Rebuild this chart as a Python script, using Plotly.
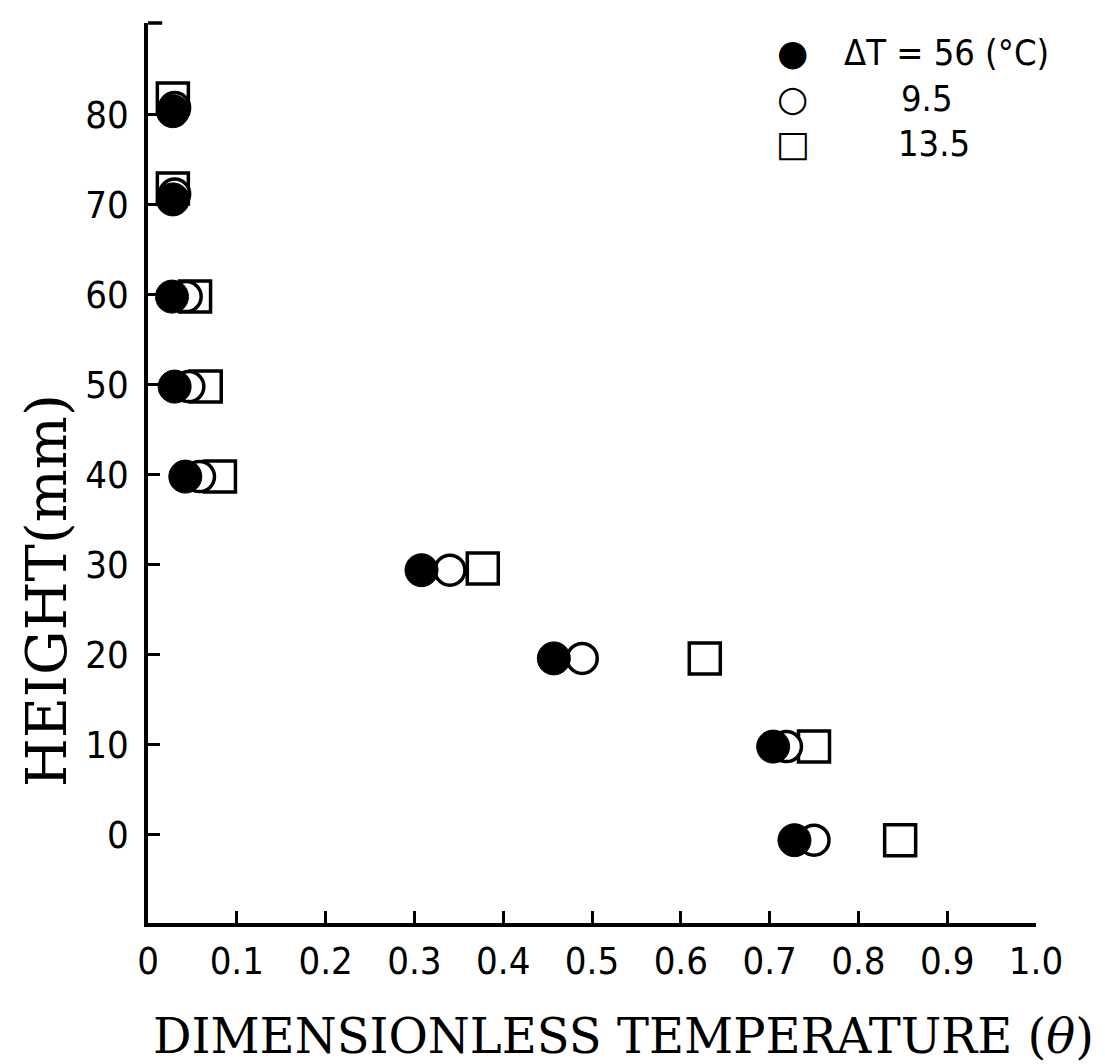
import plotly.graph_objects as go

# Data (height in mm vs dimensionless temperature)
x_dt56 = [0.028, 0.028, 0.027, 0.030, 0.042, 0.308, 0.457, 0.704, 0.728]
y_dt56 = [80.4, 70.6, 59.8, 49.8, 39.8, 29.4, 19.6, 9.8, -0.6]

x_dt95 = [0.030, 0.030, 0.043, 0.046, 0.058, 0.340, 0.489, 0.719, 0.750]
y_dt95 = [80.8, 71.2, 59.8, 49.8, 39.8, 29.4, 19.6, 9.8, -0.6]

x_dt135 = [0.028, 0.028, 0.053, 0.065, 0.081, 0.377, 0.627, 0.750, 0.847]
y_dt135 = [81.8, 71.8, 59.8, 49.8, 39.8, 29.6, 19.6, 9.8, -0.6]

x_tickvals = [0, 0.1, 0.2, 0.3, 0.4, 0.5, 0.6, 0.7, 0.8, 0.9, 1.0]
x_ticktext = ["0", "0.1", "0.2", "0.3", "0.4", "0.5", "0.6", "0.7", "0.8", "0.9", "1.0"]
y_tickvals = [0, 10, 20, 30, 40, 50, 60, 70, 80]

legend_labels = ["ΔT = 56 (°C)", "9.5", "13.5"]

narrow = "Liberation Sans Narrow, DejaVu Sans Condensed, Arial Narrow, sans-serif"
tick_font = dict(family=narrow, size=38, color="black")
serif = "DejaVu Serif, Liberation Serif, serif"

fig = go.Figure()
fig.add_trace(go.Scatter(x=x_dt135, y=y_dt135, mode="markers", name=legend_labels[2],
                         marker=dict(symbol="square", size=31, color="white",
                                     line=dict(color="black", width=3.5))))
fig.add_trace(go.Scatter(x=x_dt95, y=y_dt95, mode="markers", name=legend_labels[1],
                         marker=dict(symbol="circle", size=30, color="white",
                                     line=dict(color="black", width=3.5))))
fig.add_trace(go.Scatter(x=x_dt56, y=y_dt56, mode="markers", name=legend_labels[0],
                         marker=dict(symbol="circle", size=33, color="black",
                                     line=dict(color="black", width=1))))

fig.update_layout(
    width=1105, height=1064,
    margin=dict(l=140, r=77, t=15, b=149),
    paper_bgcolor="white", plot_bgcolor="white",
    showlegend=False,
    xaxis=dict(range=[0, 1.0], tickvals=x_tickvals, ticktext=x_ticktext,
               ticks="inside", ticklen=12, tickwidth=2.5, tickcolor="black",
               showline=True, linecolor="black", linewidth=3.5,
               showgrid=False, zeroline=False, tickfont=tick_font,
               ticklabelstandoff=2),
    yaxis=dict(range=[-9.8, 90.2], tickvals=y_tickvals,
               ticks="inside", ticklen=12, tickwidth=2.5, tickcolor="black",
               showline=True, linecolor="black", linewidth=3.5,
               showgrid=False, zeroline=False, tickfont=tick_font,
               ticklabelstandoff=8),
)

# top cap of the y axis
fig.add_shape(type="line", xref="x domain", yref="y domain", x0=0, x1=0.016, y0=1, y1=1,
              line=dict(color="black", width=3.5))

# axis titles
fig.add_annotation(text="DIMENSIONLESS TEMPERATURE (<i>θ</i>)", xref="paper", yref="paper",
                   x=0.535, y=-0.126, showarrow=False, xanchor="center", yanchor="middle",
                   font=dict(family=serif, size=48, color="black"))
fig.add_annotation(text="HEIGHT(mm)", xref="paper", yref="paper",
                   x=-0.115, y=0.37, showarrow=False, textangle=-90,
                   xanchor="center", yanchor="middle",
                   font=dict(family=serif, size=56, color="black"))

# legend drawn as text
sym_font = dict(family="DejaVu Sans", size=36, color="black")
leg_font = dict(family=narrow, size=36, color="black")
legend_symbols = ["●", "○", "□"]
leg_y = [0.967, 0.916, 0.866]
leg_tx = [0.782, 0.846, 0.842]
for sym, lab, yy, tx in zip(legend_symbols, legend_labels, leg_y, leg_tx):
    fig.add_annotation(text=sym, xref="paper", yref="paper", x=0.726, y=yy,
                       showarrow=False, xanchor="center", yanchor="middle", font=sym_font)
    fig.add_annotation(text=lab, xref="paper", yref="paper", x=tx, y=yy,
                       showarrow=False, xanchor="left", yanchor="middle", font=leg_font)

fig.write_html("out.html")
